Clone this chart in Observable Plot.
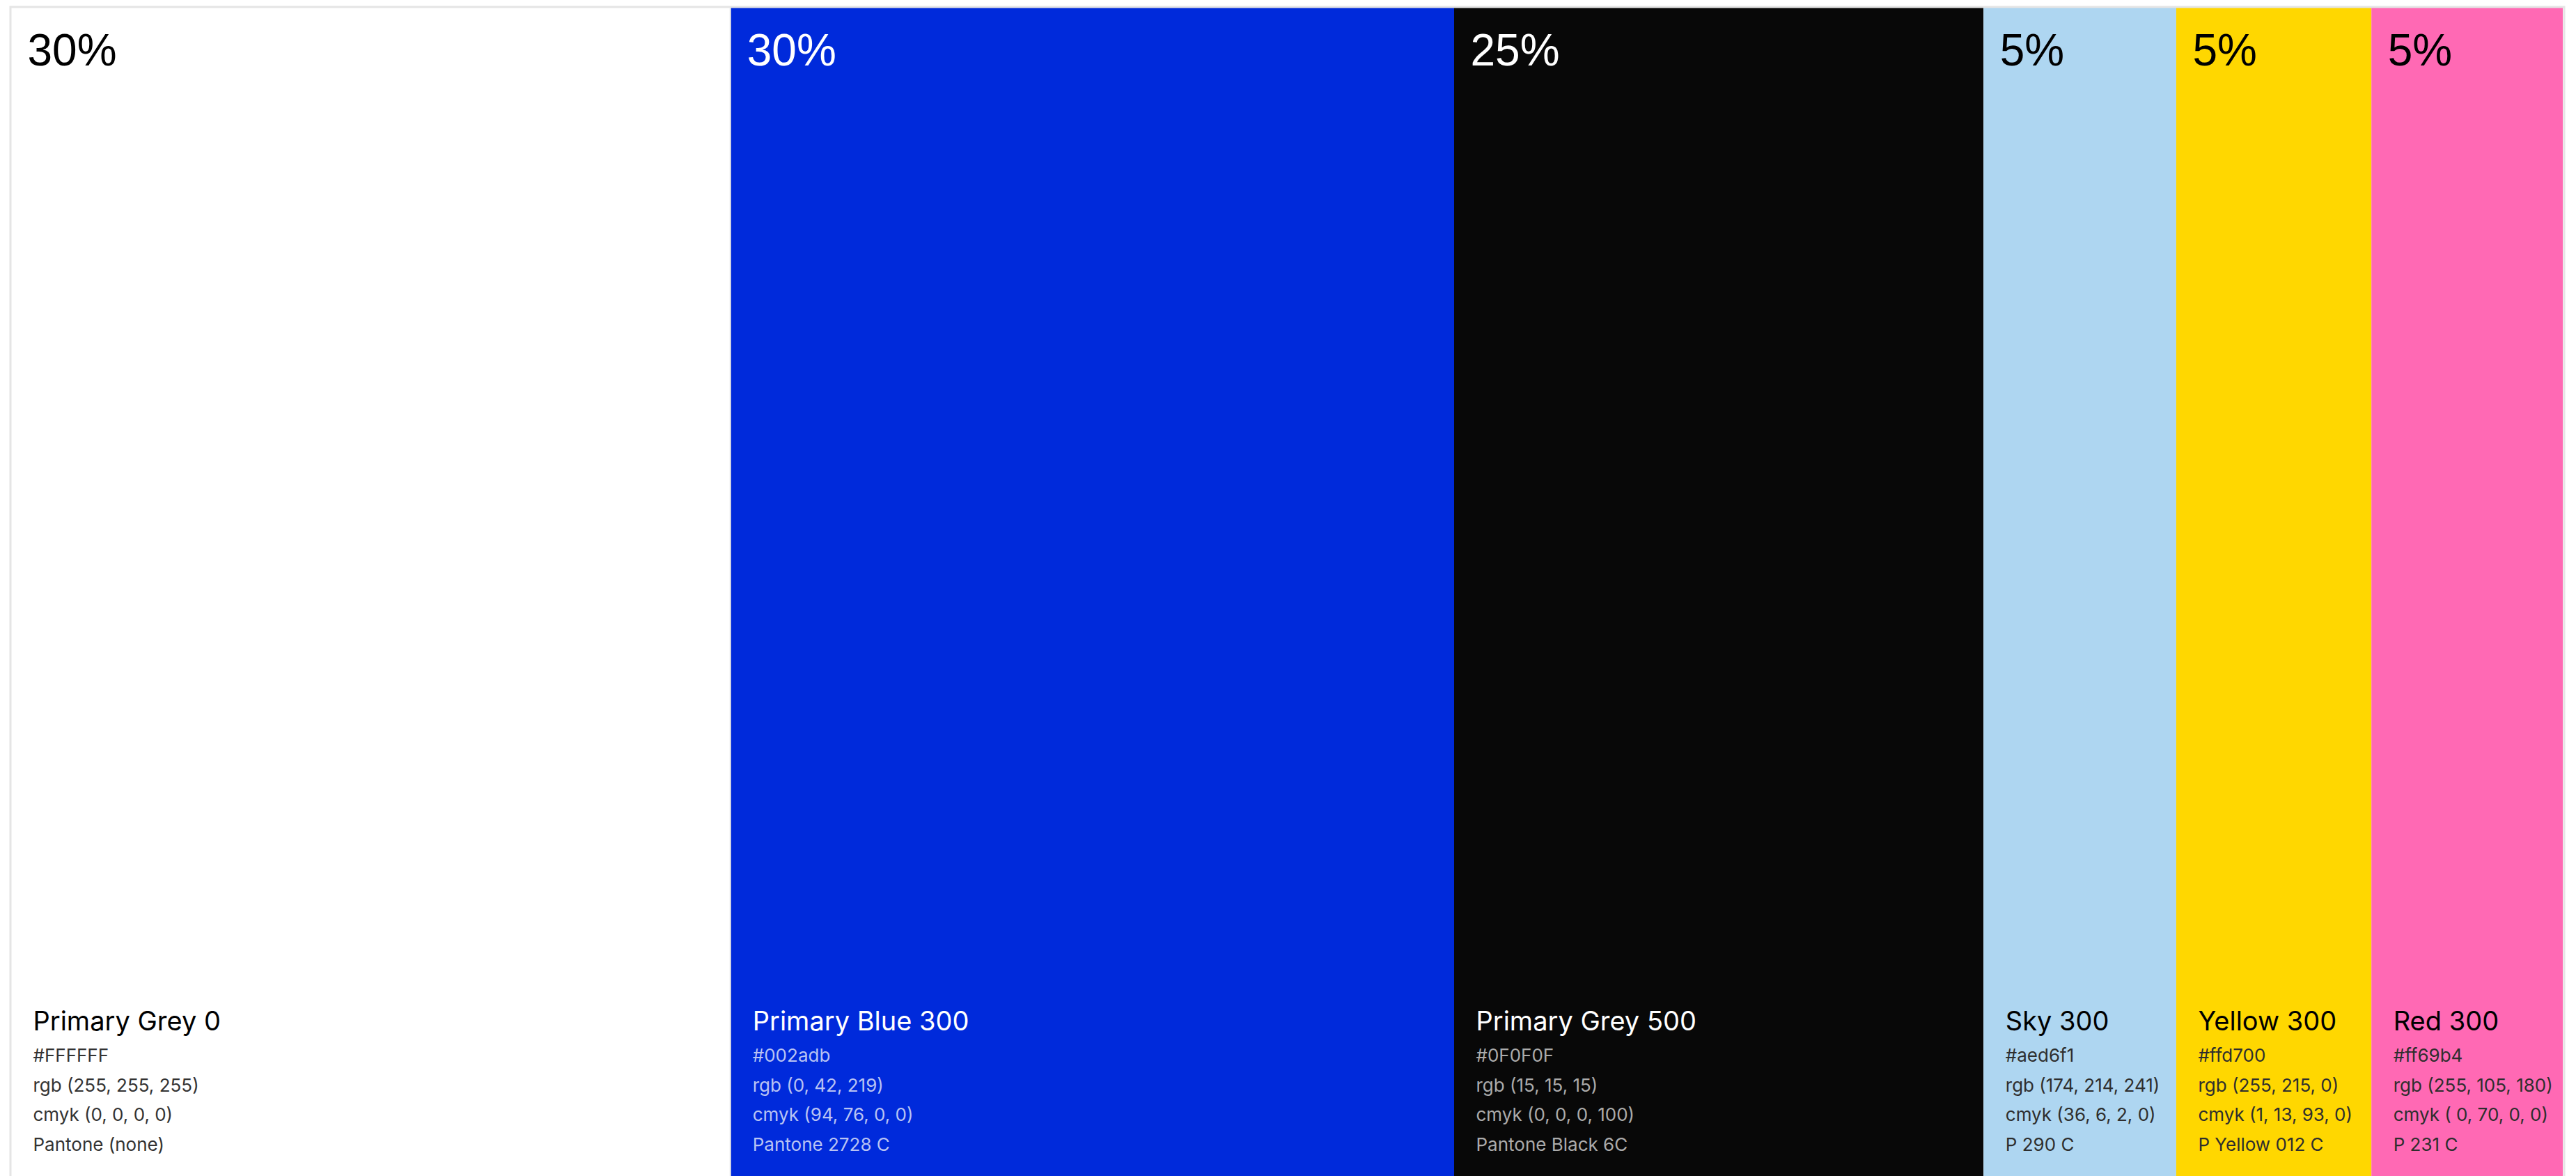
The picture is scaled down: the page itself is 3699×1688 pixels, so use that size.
<!DOCTYPE html>
<html>
<head>
<meta charset="utf-8">
<script src="https://cdn.jsdelivr.net/npm/d3@7"></script>
<script src="https://cdn.jsdelivr.net/npm/@observablehq/plot@0.6"></script>
<style>
  html, body { margin: 0; padding: 0; background: #ffffff; }
  #chart svg { display: block; }
</style>
</head>
<body>
<div id="chart"></div>
<script>
// ---- data ----
const names = ["Primary Grey 0", "Primary Blue 300", "Primary Grey 500", "Sky 300", "Yellow 300", "Red 300"];
const percents = [30, 30, 25, 5, 5, 5];
// share of the strip each swatch occupies in the picture (percent of total width)
const shares = [28.2, 28.35, 20.75, 7.55, 7.65, 7.5];
const hexes = ["#FFFFFF", "#002adb", "#0F0F0F", "#aed6f1", "#ffd700", "#ff69b4"];
const swatches = ["#ffffff", "#002adb", "#080808", "#aed6f1", "#ffd700", "#ff69b4"];
const rgbs = ["rgb (255, 255, 255)", "rgb (0, 42, 219)", "rgb (15, 15, 15)", "rgb (174, 214, 241)", "rgb (255, 215, 0)", "rgb (255, 105, 180)"];
const cmyks = ["cmyk (0, 0, 0, 0)", "cmyk (94, 76, 0, 0)", "cmyk (0, 0, 0, 100)", "cmyk (36, 6, 2, 0)", "cmyk (1, 13, 93, 0)", "cmyk ( 0, 70, 0, 0)"];
const pantones = ["Pantone (none)", "Pantone 2728 C", "Pantone Black 6C", "P 290 C", "P Yellow 012 C", "P 231 C"];
const titleInks = ["#000000", "#ffffff", "#ffffff", "#000000", "#000000", "#000000"];
const detailInks = ["#333333", "#b9c3f3", "#ababab", "#2e2e2e", "#2e2e2e", "#2e2e2e"];

const rows = names.map((name, i) => ({
  name, pct: percents[i], share: shares[i], hex: hexes[i], swatch: swatches[i],
  rgb: rgbs[i], cmyk: cmyks[i], pantone: pantones[i],
  titleInk: titleInks[i], detailInk: detailInks[i]
}));

const detailFields = [
  {key: "hex", dy: -165},
  {key: "rgb", dy: -122},
  {key: "cmyk", dy: -80},
  {key: "pantone", dy: -37}
];

const marks = [
  Plot.rectX(rows, {x: "share", fill: "swatch"}),
  Plot.ruleX(rows.slice(0, 1), Plot.stackX2({x: "share", stroke: "#e4e4e4", strokeWidth: 2, dx: -1})),
  Plot.text(rows, Plot.stackX1({
    x: "share", text: d => d.pct + "%", frameAnchor: "top", lineAnchor: "bottom", dy: 82, dx: 23,
    textAnchor: "start", fontSize: 64, fontFamily: "Liberation Sans, Arial, sans-serif", fill: "titleInk"
  })),
  Plot.text(rows, Plot.stackX1({
    x: "share", text: "name", frameAnchor: "bottom", lineAnchor: "bottom", dy: -210, dx: 31,
    textAnchor: "start", fontSize: 38, fontFamily: "Inter, sans-serif", fill: "titleInk"
  })),
  ...detailFields.map(f => Plot.text(rows, Plot.stackX1({
    x: "share", text: f.key, frameAnchor: "bottom", lineAnchor: "bottom", dy: f.dy, dx: 31,
    textAnchor: "start", fontSize: 26, fontFamily: "Inter, sans-serif", fill: "detailInk"
  }))),
  Plot.frame({stroke: "#e5e5e5", strokeWidth: 3, insetLeft: -1.5, insetTop: -1.5, insetRight: -1.5, insetBottom: -4})
];

const chart = Plot.plot({
  width: 3699,
  height: 1688,
  marginLeft: 16,
  marginRight: 19,
  marginTop: 11,
  marginBottom: 0,
  x: {axis: null},
  y: {axis: null},
  color: {type: "identity"},
  style: {background: "transparent", overflow: "visible"},
  marks
});
document.getElementById("chart").appendChild(chart);
</script>
</body>
</html>
